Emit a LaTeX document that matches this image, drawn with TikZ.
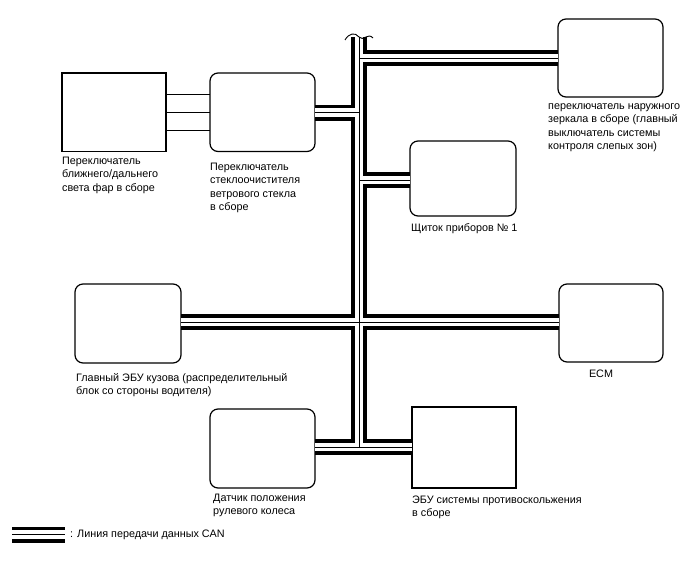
\documentclass[tikz,border=0pt]{standalone}
\usepackage{fontspec}
\setmainfont{Liberation Sans}
\begin{document}
\begin{tikzpicture}[x=1pt,y=-1pt,
  box/.style={draw, line width=1.2pt, rectangle, inner sep=0pt, outer sep=0pt, anchor=north west},
  rbox/.style={box, rounded corners=8pt},
  lbl/.style={font=\fontsize{10.8}{13.5}\selectfont, align=left, anchor=north west, inner sep=0pt},
  canouter/.style={line width=16pt, black},
  caninner/.style={line width=8.5pt, white},
  cancore/.style={line width=0.8pt, black},
  wire/.style={line width=1pt, black}]
\useasboundingbox (0,0) rectangle (688,560);
\fill[white] (0,0) rectangle (688,560);

% boxes
\node[box,  minimum width=104pt, minimum height=78.5pt] (hl)      at (62,73)  {};
\node[rbox, minimum width=105pt, minimum height=78.5pt] (wiper)   at (210,73) {};
\node[rbox, minimum width=105pt, minimum height=78pt]   (mirror)  at (558,19) {};
\node[rbox, minimum width=106pt, minimum height=75pt]   (cluster) at (410,141) {};
\node[rbox, minimum width=106pt, minimum height=79pt]   (ecu)     at (75,284) {};
\node[rbox, minimum width=104pt, minimum height=78pt]   (ecm)     at (559,284) {};
\node[rbox, minimum width=105pt, minimum height=79pt]   (steer)   at (210,409) {};
\node[box,  minimum width=104pt, minimum height=81pt]   (abs)     at (412,407) {};

% labels
\node[lbl] (hlL) at (62,154.5) {\strut Переключатель\\ближнего/дальнего\\света фар в сборе};
\node[lbl] (wiperL) at (210,160.5) {\strut Переключатель\\стеклоочистителя\\ветрового стекла\\в сборе};
\node[lbl] (mirrorL) at (548,99.5) {\strut переключатель наружного\\зеркала в сборе (главный\\выключатель системы\\контроля слепых зон)};
\node[lbl] (clusterL) at (411,222) {\strut Щиток приборов № 1};
\node[lbl] (ecuL) at (76,371.5) {\strut Главный ЭБУ кузова (распределительный\\блок со стороны водителя)};
\node[lbl, anchor=north] (ecmL) at (601,367.5) {\strut ECM};
\node[lbl] (steerL) at (213,491.5) {\strut Датчик положения\\рулевого колеса};
\node[lbl] (absL) at (412,493.5) {\strut ЭБУ системы противоскольжения\\в сборе};
\node[lbl] (legL) at (70,527.5) {\strut : Линия передачи данных CAN};

% thin wires headlight - wiper
\draw[wire] ([yshift=18pt]hl.east) -- ([yshift=18pt]wiper.west);
\draw[wire] (hl.east) -- (wiper.west);
\draw[wire] ([yshift=-18pt]hl.east) -- ([yshift=-18pt]wiper.west);

% bus coordinates
\coordinate (btop) at (359,37);
\coordinate (jm) at (359,58);
\coordinate (jw) at (359,112.5);
\coordinate (jc) at (359,180);
\coordinate (jx) at (359,322);
\coordinate (jb) at (359,447);
\coordinate (mw) at (mirror.west |- jm);
\coordinate (ww) at (wiper.east |- jw);
\coordinate (cw) at (cluster.west |- jc);
\coordinate (ew) at (ecu.east |- jx);
\coordinate (mcw) at (ecm.west |- jx);
\coordinate (sw) at (steer.east |- jb);
\coordinate (aw) at (abs.west |- jb);
\coordinate (lgA) at (12,534.7);
\coordinate (lgB) at (65,534.7);

\foreach \p/\q in {btop/jb, jm/mw, ww/jw, jc/cw, ew/mcw, sw/aw, lgA/lgB}
  \draw[canouter] (\p) -- (\q);
\foreach \p/\q in {btop/jb, jm/mw, ww/jw, jc/cw, ew/mcw, sw/aw, lgA/lgB}
  \draw[caninner] (\p) -- (\q);
\foreach \p/\q in {btop/jb, jm/mw, ww/jw, jc/cw, ew/mcw, sw/aw, lgA/lgB}
  \draw[cancore] (\p) -- (\q);

% break mark at the top of the bus
\draw[line width=0.9pt] (345,40) .. controls (349,33) and (355,32) .. (359,37)
  .. controls (363,42) and (368,32) .. (373,38);
\end{tikzpicture}
\end{document}
